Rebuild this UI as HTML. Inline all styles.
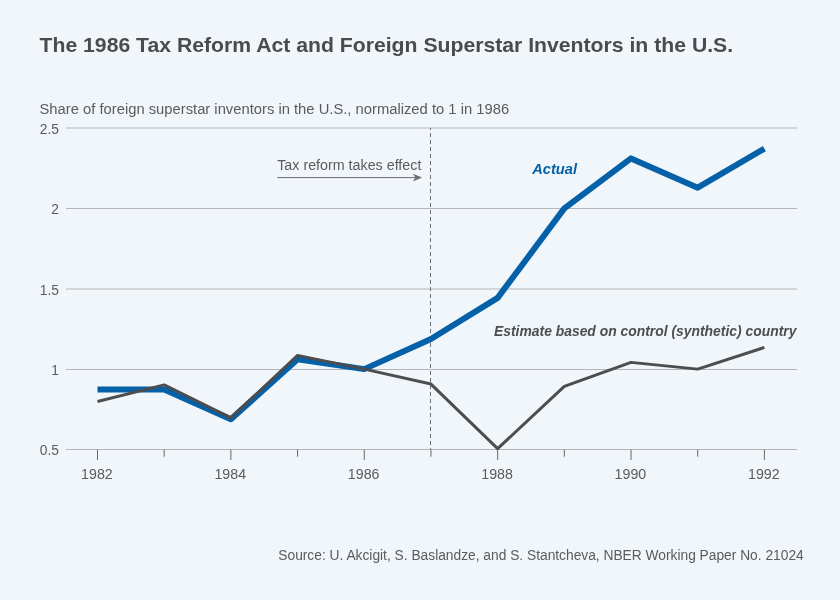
<!DOCTYPE html>
<html lang="en"><head><meta charset="utf-8"><title>The 1986 Tax Reform Act and Foreign Superstar Inventors in the U.S.</title>
<style>
html,body{margin:0;padding:0;background:#f1f6fb;}
body{width:840px;height:600px;overflow:hidden;}
svg{display:block;will-change:transform;font-family:"Liberation Sans",sans-serif;}
.ax{font-size:13.8px;fill:#5a5b5d;}
</style></head><body>
<svg width="840" height="600" viewBox="0 0 840 600">
<rect width="840" height="600" fill="#f1f6fb"/>
<text x="39.5" y="52.3" font-size="20.6" font-weight="bold" fill="#4b4b4d" textLength="693.6" lengthAdjust="spacingAndGlyphs">The 1986 Tax Reform Act and Foreign Superstar Inventors in the U.S.</text>
<text x="39.5" y="113.6" font-size="13.8" fill="#5a5b5d" textLength="469.6" lengthAdjust="spacingAndGlyphs">Share of foreign superstar inventors in the U.S., normalized to 1 in 1986</text>
<rect x="66" y="127.50" width="731" height="1" fill="#b4b5b8"/><rect x="66" y="208.00" width="731" height="1" fill="#b4b5b8"/><rect x="66" y="288.50" width="731" height="1" fill="#b4b5b8"/><rect x="66" y="369.00" width="731" height="1" fill="#b4b5b8"/>
<rect x="66" y="449" width="731" height="1" fill="#b4b5b8"/>
<rect x="97.00" y="449.5" width="1" height="10.4" fill="#68696b"/><rect x="163.69" y="449.5" width="1" height="7.2" fill="#68696b"/><rect x="230.38" y="449.5" width="1" height="10.4" fill="#68696b"/><rect x="297.07" y="449.5" width="1" height="7.2" fill="#68696b"/><rect x="363.76" y="449.5" width="1" height="10.4" fill="#68696b"/><rect x="430.45" y="449.5" width="1" height="7.2" fill="#68696b"/><rect x="497.14" y="449.5" width="1" height="10.4" fill="#68696b"/><rect x="563.83" y="449.5" width="1" height="7.2" fill="#68696b"/><rect x="630.52" y="449.5" width="1" height="10.4" fill="#68696b"/><rect x="697.21" y="449.5" width="1" height="7.2" fill="#68696b"/><rect x="763.90" y="449.5" width="1" height="10.4" fill="#68696b"/>
<line x1="430.5" y1="128" x2="430.5" y2="449.5" stroke="#6d6e71" stroke-width="1" stroke-dasharray="4,3" stroke-dashoffset="2"/>
<text x="58.9" y="455.30" text-anchor="end" class="ax">0.5</text><text x="58.9" y="374.93" text-anchor="end" class="ax">1</text><text x="58.9" y="294.55" text-anchor="end" class="ax">1.5</text><text x="58.9" y="214.18" text-anchor="end" class="ax">2</text><text x="58.9" y="133.80" text-anchor="end" class="ax">2.5</text>
<text x="96.90" y="478.8" text-anchor="middle" class="ax" textLength="31.6" lengthAdjust="spacingAndGlyphs">1982</text><text x="230.28" y="478.8" text-anchor="middle" class="ax" textLength="31.6" lengthAdjust="spacingAndGlyphs">1984</text><text x="363.66" y="478.8" text-anchor="middle" class="ax" textLength="31.6" lengthAdjust="spacingAndGlyphs">1986</text><text x="497.04" y="478.8" text-anchor="middle" class="ax" textLength="31.6" lengthAdjust="spacingAndGlyphs">1988</text><text x="630.42" y="478.8" text-anchor="middle" class="ax" textLength="31.6" lengthAdjust="spacingAndGlyphs">1990</text><text x="763.80" y="478.8" text-anchor="middle" class="ax" textLength="31.6" lengthAdjust="spacingAndGlyphs">1992</text>
<text x="277.2" y="169.7" font-size="13.8" fill="#5a5b5d" textLength="144.2" lengthAdjust="spacingAndGlyphs">Tax reform takes effect</text>
<rect x="277.2" y="177.1" width="138" height="1" fill="#6d6e71"/>
<path d="M422,177.6 L413,173.7 L415.3,177.6 L413,181.6 Z" fill="#6d6e71"/>
<path d="M97.50,389.54 L164.19,389.54 L230.88,419.28 L297.57,359.16 L364.26,369.12 L430.95,339.06 L497.64,297.91 L564.33,208.38 L631.02,158.38 L697.71,187.64 L764.40,148.58" fill="none" stroke="#0461a8" stroke-width="6" stroke-linejoin="round" stroke-linecap="butt"/>
<path d="M97.50,401.44 L164.19,384.88 L230.88,417.83 L297.57,355.46 L364.26,369.12 L430.95,384.07 L497.64,448.62 L564.33,386.33 L631.02,362.37 L697.71,369.12 L764.40,347.42" fill="none" stroke="#4d4d4f" stroke-width="3" stroke-linejoin="round" stroke-linecap="butt"/>
<text x="532.2" y="173.5" font-size="15.3" font-weight="bold" font-style="italic" fill="#0461a8" textLength="44.8" lengthAdjust="spacingAndGlyphs">Actual</text>
<text x="494" y="336.1" font-size="14.2" font-weight="bold" font-style="italic" fill="#4d4d4f" textLength="302.4" lengthAdjust="spacingAndGlyphs">Estimate based on control (synthetic) country</text>
<text x="278.3" y="560.3" font-size="13.8" fill="#5a5b5d" textLength="525.4" lengthAdjust="spacingAndGlyphs">Source: U. Akcigit, S. Baslandze, and S. Stantcheva, NBER Working Paper No. 21024</text>
</svg>
</body></html>
